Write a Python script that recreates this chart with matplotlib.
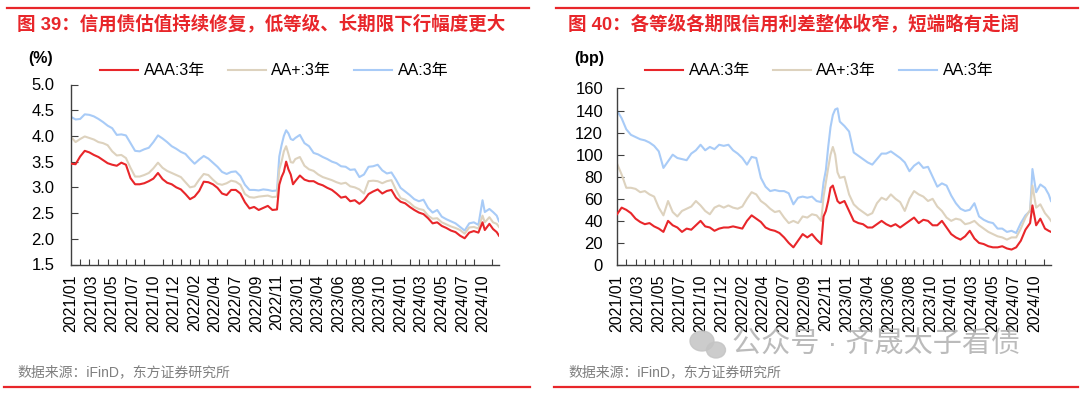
import numpy as np
import matplotlib
matplotlib.use("Agg")
import matplotlib.pyplot as plt
from matplotlib.lines import Line2D
from matplotlib.patches import Ellipse

plt.rcParams['font.family'] = ['Liberation Sans', 'Noto Sans CJK SC']
plt.rcParams['axes.unicode_minus'] = False

RED = "#E8262A"
BEIGE = "#DDD2BE"
BLUE = "#A8CBF7"
GREY = "#7F7F7F"

# category axis: trading-day index, a label every 45 days
date_labels = ['2021/01', '2021/03', '2021/05', '2021/07', '2021/10', '2021/12',
               '2022/02', '2022/04', '2022/07', '2022/09', '2022/11', '2023/01',
               '2023/04', '2023/06', '2023/08', '2023/10', '2024/01', '2024/03',
               '2024/05', '2024/07', '2024/10']
label_pos = [45 * i for i in range(len(date_labels))]
n_days = 935

# figure 39: yields (%), sampled along the trading-day index
yld_x = np.r_[np.arange(0, 451, 10), np.arange(455, 486, 5),
              np.arange(490, 891, 10), [899, 904, 914, 922, 930, 935]]
yld_aaa = [3.46, 3.45, 3.60, 3.71, 3.68, 3.63, 3.59, 3.53, 3.47, 3.44,
           3.42, 3.48, 3.44, 3.18, 3.06, 3.06, 3.08, 3.12, 3.17, 3.28,
           3.16, 3.09, 3.06, 3.00, 2.96, 2.87, 2.77, 2.82, 2.93, 3.11,
           3.10, 3.06, 2.99, 2.88, 2.85, 2.95, 2.95, 2.88, 2.71, 2.59,
           2.62, 2.56, 2.60, 2.64, 2.56, 2.57,
           3.05, 3.20, 3.30, 3.50, 3.35, 3.25, 3.06,
           3.12, 3.23, 3.15, 3.12, 3.12, 3.07, 3.04, 2.99, 2.95, 2.88,
           2.80, 2.82, 2.73, 2.75, 2.68, 2.75, 2.87, 2.92, 2.96, 2.88,
           2.93, 2.95, 2.80, 2.72, 2.69, 2.62, 2.56, 2.51, 2.48, 2.40,
           2.30, 2.32, 2.25, 2.21, 2.16, 2.13, 2.06, 2.01, 2.12, 2.15, 2.12,
           2.32, 2.17, 2.29, 2.19, 2.13, 2.06]
yld_aap = [3.98, 3.88, 3.94, 3.99, 3.96, 3.93, 3.88, 3.86, 3.82, 3.70,
           3.62, 3.63, 3.57, 3.38, 3.21, 3.21, 3.24, 3.28, 3.37, 3.48,
           3.38, 3.32, 3.28, 3.24, 3.20, 3.10, 3.00, 3.02, 3.15, 3.26,
           3.24, 3.15, 3.07, 3.05, 3.08, 3.13, 3.11, 3.05, 2.87, 2.81,
           2.80, 2.82, 2.83, 2.84, 2.81, 2.82,
           3.35, 3.50, 3.70, 3.80, 3.65, 3.49, 3.48,
           3.55, 3.59, 3.42, 3.35, 3.32, 3.25, 3.20, 3.17, 3.14, 3.10,
           3.07, 3.09, 3.02, 3.00, 2.96, 2.88, 3.12, 3.13, 3.12, 3.08,
           3.12, 3.14, 2.95, 2.79, 2.76, 2.70, 2.62, 2.58, 2.56, 2.45,
           2.39, 2.40, 2.32, 2.28, 2.24, 2.21, 2.17, 2.10, 2.22, 2.23, 2.20,
           2.45, 2.32, 2.42, 2.32, 2.29, 2.23]
yld_aa = [4.37, 4.32, 4.33, 4.42, 4.41, 4.38, 4.33, 4.27, 4.20, 4.15,
          4.02, 4.03, 4.01, 3.86, 3.71, 3.70, 3.74, 3.77, 3.88, 4.01,
          3.95, 3.88, 3.80, 3.75, 3.69, 3.65, 3.55, 3.46, 3.54, 3.61,
          3.56, 3.48, 3.40, 3.30, 3.26, 3.30, 3.31, 3.22, 3.05, 2.95,
          2.95, 2.94, 2.96, 2.95, 2.93, 2.94,
          3.60, 3.82, 4.00, 4.11, 4.05, 3.94, 3.92,
          3.96, 4.02, 3.86, 3.80, 3.67, 3.64, 3.59, 3.55, 3.50, 3.47,
          3.41, 3.40, 3.34, 3.35, 3.20, 3.25, 3.40, 3.41, 3.44, 3.33,
          3.27, 3.29, 3.15, 2.99, 2.92, 2.85, 2.77, 2.73, 2.76, 2.60,
          2.51, 2.56, 2.43, 2.38, 2.34, 2.30, 2.23, 2.16, 2.30, 2.32, 2.27,
          2.75, 2.52, 2.58, 2.52, 2.45, 2.34]

# figure 40: credit spreads (bp)
spr_x = np.r_[np.arange(0, 441, 10), np.arange(445, 476, 5),
              np.arange(480, 891, 10), [895, 903, 912, 922, 930, 935]]
spr_aaa = [46, 52, 50, 47, 42, 39, 37, 38, 35, 33, 30, 40, 36, 34, 30,
           33, 32, 36, 40, 35, 34, 31, 33, 34, 34, 35, 34, 33, 40, 45,
           42, 39, 34, 32, 31, 29, 25, 20, 16, 22, 28, 25, 28, 23, 19,
           44, 49, 58, 70, 72, 65, 58,
           56, 58, 49, 40, 38, 37, 34, 34, 37, 40, 37, 35, 37, 34,
           37, 40, 43, 38, 41, 40, 36, 36, 40, 34, 28, 25, 23, 26,
           31, 24, 20, 19, 17, 16, 16, 17, 15, 14, 16, 22, 32, 38,
           54, 36, 42, 33, 31, 30]
spr_aap = [92, 82, 70, 70, 69, 66, 67, 64, 62, 52, 45, 58, 48, 44, 49,
           51, 53, 58, 54, 49, 46, 52, 54, 52, 54, 52, 51, 53, 60, 66,
           64, 58, 55, 51, 48, 49, 43, 38, 40, 38, 44, 43, 46, 45, 40,
           62, 75, 88, 100, 107, 100, 84,
           79, 80, 64, 55, 51, 48, 45, 47, 56, 61, 59, 64, 60, 57,
           49, 60, 67, 64, 62, 58, 60, 53, 49, 43, 40, 42, 41, 37,
           38, 40, 36, 33, 30, 28, 26, 25, 23, 25, 25, 33, 43, 50,
           72, 52, 55, 47, 43, 40]
spr_aa = [140, 133, 123, 118, 116, 114, 113, 111, 108, 103, 88, 94, 100, 97, 96,
          95, 101, 104, 109, 104, 107, 105, 109, 108, 109, 104, 101, 97, 91, 98,
          97, 79, 71, 67, 68, 67, 67, 65, 55, 61, 62, 61, 62, 58, 57,
          75, 86, 107, 125, 136, 141, 142,
          130, 126, 121, 102, 99, 96, 93, 91, 96, 101, 101, 103, 100, 97,
          93, 85, 90, 93, 88, 89, 80, 71, 74, 72, 63, 56, 51, 49,
          50, 56, 44, 41, 39, 38, 33, 33, 30, 31, 29, 38, 45, 49,
          87, 66, 73, 70, 64, 58]

series_names = ['AAA:3年', 'AA+:3年', 'AA:3年']
series_colors = [RED, BEIGE, BLUE]

fig = plt.figure(figsize=(10.8, 3.97), dpi=100)


def draw_panel(rect, x, values, ylim, yticks, fmt, ypad, legend_x):
    ax = fig.add_axes(rect)
    # draw AA first so AAA sits on top
    handles = []
    for vals, col, name, z in zip(values, series_colors, series_names, [3, 2, 1]):
        h, = ax.plot(x, vals, color=col, lw=1.5, label=name, zorder=z)
        handles.append(h)
    ax.set_xlim(0, n_days)
    ax.set_ylim(*ylim)
    ax.set_yticks(yticks, [fmt.format(v) for v in yticks])
    ax.set_xticks(label_pos, date_labels, rotation=90)
    ax.set_xticks(np.arange(20, n_days, 20), minor=True)
    ax.tick_params(axis='x', which='major', length=0, pad=7, labelsize=11.5)
    ax.tick_params(axis='x', which='minor', direction='in', length=4,
                   width=0.8, color='#404040')
    ax.tick_params(axis='y', direction='in', length=5, width=0.8,
                   color='#404040', pad=ypad, labelsize=12)
    for side in ['top', 'right']:
        ax.spines[side].set_visible(False)
    for side in ['left', 'bottom']:
        ax.spines[side].set_color('#404040')
        ax.spines[side].set_linewidth(1.0)
    ax.legend(handles, series_names, loc='center left', ncol=3, frameon=False,
              bbox_to_anchor=(legend_x, 1 - 71 / 397),
              bbox_transform=fig.transFigure, borderaxespad=0, borderpad=0,
              fontsize=11.5, handlelength=2.4, handletextpad=0.35,
              columnspacing=1.4)
    return ax


ax1 = draw_panel([71 / 1080, 1 - 264.5 / 397, 428 / 1080, 180 / 397],
                 yld_x, [yld_aaa, yld_aap, yld_aa], (1.5, 5.0),
                 [1.5, 2.0, 2.5, 3.0, 3.5, 4.0, 4.5, 5.0], "{:.1f}", 12,
                 100 / 1080)
ax2 = draw_panel([617 / 1080, 1 - 265 / 397, 434 / 1080, 176.5 / 397],
                 spr_x, [spr_aaa, spr_aap, spr_aa], (0, 160),
                 list(range(0, 161, 20)), "{:d}", 10, 645 / 1080)

# titles, units and source lines
fig.text(17 / 1080, 1 - 24 / 397, "图 39：信用债估值持续修复，低等级、长期限下行幅度更大",
         color=RED, fontsize=13.3, fontweight='bold', va='center')
fig.text(568 / 1080, 1 - 24 / 397, "图 40：各等级各期限信用利差整体收窄，短端略有走阔",
         color=RED, fontsize=13.3, fontweight='bold', va='center')
fig.text(28 / 1080, 1 - 59 / 397, "(%)", fontsize=11.5, fontweight='bold', va='center')
fig.text(574 / 1080, 1 - 59 / 397, "(bp)", fontsize=11.5, fontweight='bold', va='center')
fig.text(17 / 1080, 1 - 372 / 397, "数据来源：iFinD，东方证券研究所",
         color=GREY, fontsize=10, va='center')
fig.text(568 / 1080, 1 - 372 / 397, "数据来源：iFinD，东方证券研究所",
         color=GREY, fontsize=10, va='center')

for x0, x1 in [(7, 529), (556, 1078)]:
    fig.add_artist(Line2D([x0 / 1080, x1 / 1080], [1 - 7.5 / 397] * 2,
                          color=RED, lw=1.6))
for x0, x1 in [(4, 530), (554, 1078)]:
    fig.add_artist(Line2D([x0 / 1080, x1 / 1080], [1 - 387 / 397] * 2,
                          color=RED, lw=1.6))

# watermark
fig.add_artist(Ellipse((702 / 1080, 1 - 341 / 397), 24 / 1080, 20 / 397,
                       color='#C4C4C4', alpha=0.85, zorder=10))
fig.add_artist(Ellipse((716 / 1080, 1 - 350 / 397), 19 / 1080, 16 / 397,
                       color='#C4C4C4', alpha=0.85, zorder=10))
fig.text(732 / 1080, 1 - 344 / 397, "公众号 · 齐晟太子看债", color='#B0B0B0',
         alpha=0.85, fontsize=21, va='center', zorder=10)

fig.savefig("out.png", dpi=100)
